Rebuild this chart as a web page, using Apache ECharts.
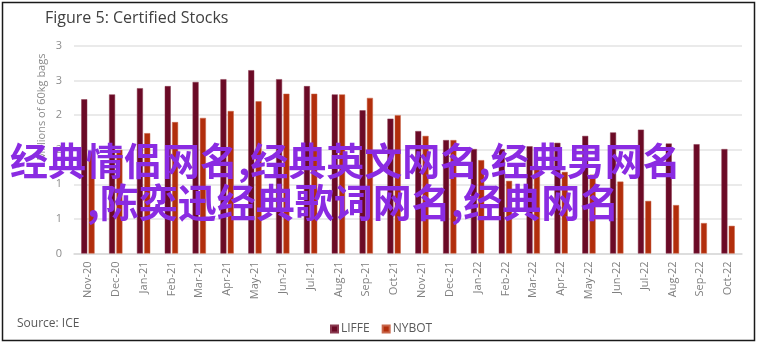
<!DOCTYPE html>
<html>
<head>
<meta charset="utf-8">
<script src="https://cdn.jsdelivr.net/npm/echarts@6/dist/echarts.min.js"></script>
<style>
  html, body { margin: 0; padding: 0; background: #fff; }
  #chart { width: 758px; height: 345px; }
</style>
</head>
<body>
<div id="chart"></div>
<script>
// Monthly certified stocks, millions of 60kg bags
const months = ['Nov-20','Dec-20','Jan-21','Feb-21','Mar-21','Apr-21','May-21','Jun-21',
                'Jul-21','Aug-21','Sep-21','Oct-21','Nov-21','Dec-21','Jan-22','Feb-22',
                'Mar-22','Apr-22','May-22','Jun-22','Jul-22','Aug-22','Sep-22','Oct-22'];
const liffe = [2.23, 2.30, 2.39, 2.42, 2.48, 2.52, 2.65, 2.52,
               2.42, 2.30, 2.07, 1.95, 1.77, 1.64, 1.51, 1.51,
               1.55, 1.60, 1.70, 1.75, 1.79, 1.59, 1.58, 1.51];
const nybot = [1.48, 1.50, 1.74, 1.90, 1.96, 2.06, 2.20, 2.31,
               2.31, 2.30, 2.25, 2.00, 1.70, 1.64, 1.35, 1.05,
               1.22, 1.18, 1.14, 1.04, 0.76, 0.70, 0.44, 0.40];
// axis labels are rounded to whole numbers
const yTickLabels = ['0', '1', '1', '2', '2', '3', '3'];
const overlayLines = ['经典情侣网名,经典英文网名,经典男网名', ',陈奕迅经典歌词网名,经典网名'];

const FONT = 'Open Sans, Noto Sans, sans-serif';
const CJK = '"Noto Sans CJK SC", sans-serif';
const chart = echarts.init(document.getElementById('chart'), null, { renderer: 'canvas' });

chart.setOption({
  animation: false,
  backgroundColor: '#ffffff',
  textStyle: { fontFamily: FONT },
  grid: { left: 74, right: 16, top: 46, bottom: 91.5, containLabel: false },
  xAxis: {
    type: 'category',
    data: months,
    axisLine: { show: true, lineStyle: { color: '#d9d9d9', width: 1.5 } },
    axisTick: { show: false },
    axisLabel: { rotate: 90, fontSize: 11, color: '#808080', margin: 8, interval: 0, fontFamily: FONT }
  },
  yAxis: {
    type: 'value',
    min: 0, max: 3, interval: 0.5,
    axisLine: { show: false },
    axisTick: { show: false },
    splitLine: { lineStyle: { color: '#e3e3e3', width: 1.5 } },
    axisLabel: {
      fontSize: 11, color: '#8c8c8c', margin: 12, fontFamily: FONT,
      formatter: (v) => yTickLabels[Math.round(v / 0.5)]
    }
  },
  legend: {
    data: ['LIFFE', 'NYBOT'],
    left: 325, top: 318,
    itemWidth: 7, itemHeight: 7, itemGap: 12,
    icon: 'rect',
    textStyle: { fontSize: 12, color: '#595959', fontFamily: FONT, padding: [0, 0, 0, -2] }
  },
  series: [
    {
      name: 'LIFFE', type: 'bar', data: liffe,
      barWidth: 6, barGap: '22%',
      itemStyle: { color: '#6b0a26', borderColor: '#8a3a50', borderWidth: 0.5 }
    },
    {
      name: 'NYBOT', type: 'bar', data: nybot,
      barWidth: 6,
      itemStyle: { color: '#b22e0c', borderColor: '#c8664a', borderWidth: 0.5 }
    }
  ],
  graphic: [
    { type: 'rect', shape: { x: 2.5, y: 2.5, width: 752, height: 338 },
      style: { fill: null, stroke: '#1a1a1a', lineWidth: 1.5 }, z: 100 },
    { type: 'text', left: 45, top: 10,
      style: { text: 'Figure 5: Certified Stocks', font: '16px ' + FONT, fill: '#404040' } },
    { type: 'text', x: 42, y: 107, rotation: Math.PI / 2,
      style: { text: 'Millions of 60kg bags', font: '11px ' + FONT, fill: '#8c8c8c',
               textAlign: 'center', textVerticalAlign: 'middle' } },
    { type: 'text', left: 17, top: 318,
      style: { text: 'Source: ICE', font: '12px ' + FONT, fill: '#595959' } },
    { type: 'text', x: 10, y: 161, z: 200,
      style: { text: overlayLines[0], font: 'bold 38px ' + CJK,
               fill: '#8a2be2', textVerticalAlign: 'middle' } },
    { type: 'text', x: 87, y: 202, z: 200,
      style: { text: overlayLines[1], font: 'bold 39px ' + CJK,
               fill: '#8a2be2', textVerticalAlign: 'middle' } }
  ]
});
</script>
</body>
</html>
